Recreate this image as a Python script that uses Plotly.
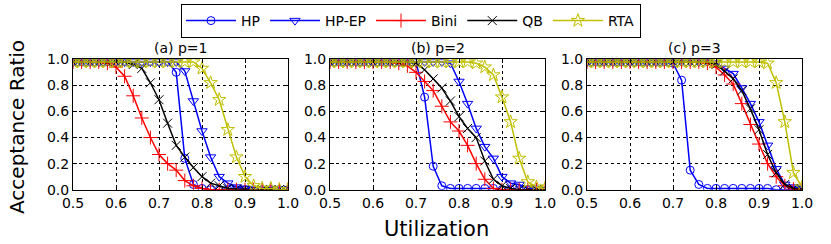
import plotly.graph_objects as go

util = [round(0.50 + 0.02 * i, 2) for i in range(26)]
# util: 0.50 0.52 ... 1.00

# (a) p=1
hp_a   = [0.98]*11 + [0.98, 0.90, 0.24, 0.04, 0.01, 0.0, 0.0, 0.0, 0.0, 0.0, 0.0, 0.0, 0.0, 0.0, 0.0]
hpep_a = [0.98]*11 + [0.98, 0.98, 0.91, 0.68, 0.45, 0.25, 0.10, 0.05, 0.02, 0.01, 0.0, 0.0, 0.0, 0.0, 0.0]
bini_a = [0.98, 0.98, 0.98, 0.98, 0.97, 0.94, 0.87, 0.72, 0.55, 0.40, 0.27, 0.20, 0.15, 0.07, 0.03, 0.01, 0.0, 0.0, 0.0, 0.0, 0.0, 0.0, 0.0, 0.0, 0.0, 0.0]
qb_a   = [0.98, 0.98, 0.98, 0.98, 0.98, 0.98, 0.98, 0.96, 0.93, 0.82, 0.69, 0.51, 0.34, 0.25, 0.17, 0.10, 0.05, 0.03, 0.01, 0.005, 0.0, 0.0, 0.0, 0.0, 0.0, 0.0]
rta_a  = [0.98]*15 + [0.93, 0.82, 0.69, 0.46, 0.25, 0.10, 0.03, 0.01, 0.01, 0.0, 0.0]

# (b) p=2
hp_b   = [0.98]*11 + [0.71, 0.18, 0.03, 0.01, 0.01, 0.01, 0.01, 0.01, 0.01, 0.0, 0.0, 0.0, 0.0, 0.0]
hpep_b = [0.98]*14 + [0.97, 0.83, 0.66, 0.47, 0.33, 0.24, 0.10, 0.05, 0.04, 0.01, 0.0, 0.0]
bini_b = [0.98]*8 + [0.97, 0.95, 0.90, 0.83, 0.76, 0.64, 0.52, 0.45, 0.34, 0.20, 0.08, 0.01, 0.0, 0.0, 0.0, 0.0, 0.0, 0.0]
qb_b   = [0.98]*10 + [0.97, 0.92, 0.85, 0.78, 0.68, 0.56, 0.47, 0.40, 0.22, 0.08, 0.03, 0.01, 0.0, 0.0, 0.0, 0.0]
rta_b  = [0.98]*17 + [0.97, 0.94, 0.88, 0.71, 0.52, 0.24, 0.06, 0.02, 0.01]

# (c) p=3
hp_c   = [0.98]*10 + [0.97, 0.84, 0.15, 0.04, 0.01, 0.01, 0.01, 0.01, 0.01, 0.01, 0.01, 0.01, 0.0, 0.0, 0.0, 0.0]
hpep_c = [0.98]*15 + [0.97, 0.93, 0.89, 0.78, 0.66, 0.52, 0.34, 0.16, 0.04, 0.02, 0.01]
bini_c = [0.98]*14 + [0.97, 0.94, 0.88, 0.81, 0.66, 0.50, 0.35, 0.20, 0.10, 0.03, 0.005, 0.0]
qb_c   = [0.98]*15 + [0.96, 0.91, 0.85, 0.76, 0.62, 0.46, 0.27, 0.13, 0.04, 0.01, 0.0]
rta_c  = [0.98]*20 + [0.98, 0.97, 0.82, 0.52, 0.13, 0.02]

panel_titles = ["(a) p=1", "(b) p=2", "(c) p=3"]
x_ticks = [0.5, 0.6, 0.7, 0.8, 0.9, 1.0]
y_ticks = [0.0, 0.2, 0.4, 0.6, 0.8, 1.0]
series_names = ["HP", "HP-EP", "Bini", "QB", "RTA"]

panels = [
    [hp_a, hpep_a, bini_a, qb_a, rta_a],
    [hp_b, hpep_b, bini_b, qb_b, rta_b],
    [hp_c, hpep_c, bini_c, qb_c, rta_c],
]

styles = {
    "HP":    dict(color="#0000ff", symbol="circle-open", size=8),
    "HP-EP": dict(color="#0000ff", symbol="triangle-down-open", size=9),
    "Bini":  dict(color="#ff0000", symbol="cross-thin-open", size=10),
    "QB":    dict(color="#000000", symbol="x-thin-open", size=9),
    "RTA":   dict(color="#bfbf00", symbol="star-open", size=10),
}

W, H = 831, 244
FONT = "DejaVu Sans"
x_doms = [(73, 288), (330, 545), (587, 802)]
y_dom = [(H - 189.7) / H, (H - 59.3) / H]

fig = go.Figure()
for p, series in enumerate(panels):
    ax = "" if p == 0 else str(p + 1)
    for name, vals in zip(series_names, series):
        st = styles[name]
        fig.add_trace(go.Scatter(
            x=util, y=vals, name=name, mode="lines+markers",
            xaxis="x" + ax, yaxis="y" + ax,
            line=dict(color=st["color"], width=1.5),
            marker=dict(symbol=st["symbol"], size=st["size"], color=st["color"],
                        line=dict(color=st["color"], width=1)),
            showlegend=(p == 0), legendgroup=name,
        ))

layout = dict(
    template="none",
    width=W, height=H,
    margin=dict(l=0, r=0, t=0, b=0, autoexpand=False),
    paper_bgcolor="white", plot_bgcolor="white",
    font=dict(family=FONT, size=14, color="black"),
    showlegend=True,
    legend=dict(orientation="h", x=411 / W, xanchor="center", y=1 - 4 / H, yanchor="top",
                bordercolor="black", borderwidth=1, font=dict(family=FONT, size=14),
                itemwidth=50, tracegroupgap=0, bgcolor="white"),
)
for p, (x0, x1) in enumerate(x_doms):
    ax = "" if p == 0 else str(p + 1)
    layout["xaxis" + ax] = dict(
        domain=[x0 / W, x1 / W], range=[0.5, 1.0], anchor="y" + ax, automargin=False,
        tickvals=x_ticks, ticktext=[f"{v:.1f}" for v in x_ticks],
        showgrid=True, gridcolor="black", griddash="dot", gridwidth=1,
        showline=True, linecolor="black", linewidth=1, mirror="allticks",
        ticks="inside", ticklen=4, tickcolor="black", zeroline=False,
        tickfont=dict(size=14, family=FONT), fixedrange=True,
    )
    layout["yaxis" + ax] = dict(
        domain=y_dom, range=[0.0, 1.0], anchor="x" + ax, automargin=False,
        tickvals=y_ticks, ticktext=[f"{v:.1f}" for v in y_ticks],
        showgrid=True, gridcolor="black", griddash="dot", gridwidth=1,
        showline=True, linecolor="black", linewidth=1, mirror="allticks",
        ticks="inside", ticklen=4, tickcolor="black", zeroline=False,
        tickfont=dict(size=14, family=FONT), fixedrange=True,
    )
fig.update_layout(**layout)

anns = []
for p, (x0, x1) in enumerate(x_doms):
    anns.append(dict(text=panel_titles[p], x=(x0 + x1) / 2 / W, y=(H - 48) / H,
                     xref="paper", yref="paper", showarrow=False, yanchor="middle", xanchor="center",
                     font=dict(size=14, family=FONT)))
anns.append(dict(text="Utilization", x=437 / W, y=(H - 229) / H, xref="paper", yref="paper",
                 showarrow=False, yanchor="middle", xanchor="center", font=dict(size=21, family=FONT)))
anns.append(dict(text="Acceptance Ratio", x=17 / W, y=(H - 127) / H, xref="paper", yref="paper",
                 showarrow=False, yanchor="middle", xanchor="center", textangle=-90,
                 font=dict(size=20, family=FONT)))
fig.update_layout(annotations=anns)

fig.write_html("out.html", config={"displayModeBar": False},
               post_script="document.body.style.margin='0';document.body.style.overflow='hidden';")
